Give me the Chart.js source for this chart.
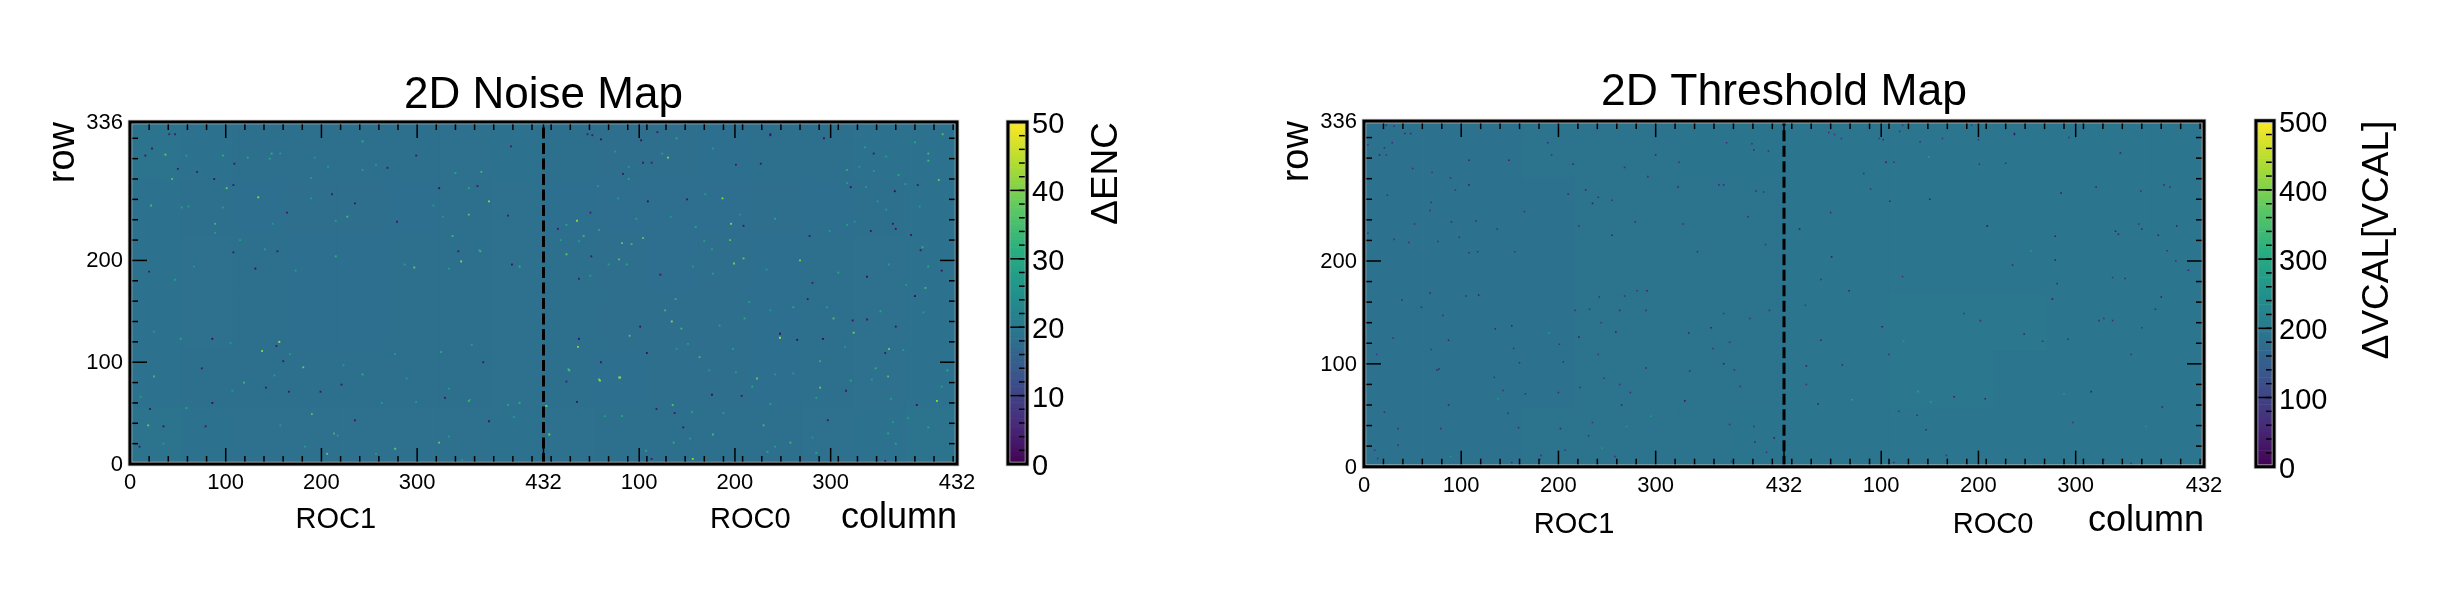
<!DOCTYPE html>
<html>
<head>
<meta charset="utf-8">
<title>2D Noise and Threshold Maps</title>
<script src="https://cdn.jsdelivr.net/npm/chart.js@4"></script>
<style>
  body { margin: 0; background: #fff; }
  canvas { position: absolute; top: 0; }
</style>
</head>
<body>
<canvas id="noiseMap" width="1000" height="592" style="left:0"></canvas>
<canvas id="noiseBar" width="230" height="592" style="left:1000px"></canvas>
<canvas id="thresholdMap" width="1010" height="592" style="left:1230px"></canvas>
<canvas id="thresholdBar" width="220" height="592" style="left:2240px"></canvas>
<script>
// axis ticks
const columnTickValues = [0, 100, 200, 300, 432, 532, 632, 732, 864];
const columnTickLabels = ["0", "100", "200", "300", "432", "100", "200", "300", "432"];
const rowTickValues = [0, 100, 200, 336];
const rowTickLabels = ["0", "100", "200", "336"];
const rocBoundary = [432];

// coarse map level, one row per 56 rows of pixels (top row first), 16 blocks across
const noiseLevels = [
  [18.9, 18.6, 18.4, 18.3, 18.3, 18.4, 18.5, 18.7, 18.4, 18.1, 18.1, 18.2, 18.3, 18.4, 18.6, 18.8],
  [18.7, 18.4, 18.2, 18.1, 18.1, 18.2, 18.3, 18.5, 18.2, 18.0, 17.9, 18.0, 18.1, 18.2, 18.4, 18.7],
  [18.8, 18.5, 18.3, 18.2, 18.2, 18.3, 18.4, 18.5, 18.3, 18.1, 18.0, 18.1, 18.2, 18.3, 18.5, 18.7],
  [18.8, 18.5, 18.3, 18.2, 18.2, 18.3, 18.4, 18.5, 18.3, 18.1, 18.1, 18.1, 18.2, 18.3, 18.5, 18.8],
  [18.7, 18.4, 18.3, 18.3, 18.3, 18.3, 18.4, 18.5, 18.3, 18.2, 18.1, 18.1, 18.2, 18.3, 18.5, 18.7],
  [18.9, 18.6, 18.5, 18.5, 18.5, 18.5, 18.5, 18.7, 18.5, 18.4, 18.3, 18.3, 18.4, 18.5, 18.6, 18.9],
];
const thresholdLevels = [
  [187, 188, 188, 189, 190, 190, 191, 191, 194, 195, 195, 195, 195, 195, 195, 194],
  [187, 187, 188, 188, 189, 190, 190, 190, 194, 195, 196, 196, 196, 195, 195, 194],
  [187, 187, 188, 188, 189, 190, 190, 190, 194, 196, 196, 196, 196, 196, 195, 195],
  [187, 187, 188, 188, 189, 190, 190, 190, 194, 196, 197, 197, 197, 196, 195, 195],
  [187, 188, 188, 188, 189, 190, 190, 190, 194, 196, 197, 197, 196, 196, 195, 195],
  [188, 188, 188, 189, 190, 190, 190, 191, 194, 195, 196, 196, 196, 195, 195, 195],
];

// single pixels that stand out from the map: [column, row, value]
const noisePixels = [
  [37,304,38],[44,280,36],[89,236,34],[101,271,38],[134,262,42],[375,258,42],[354,245,36],[367,287,34],
  [346,199,42],[297,193,38],[366,209,34],[337,224,34],[22,254,34],[243,317,32],[148,305,32],[97,303,32],
  [340,286,30],[215,204,32],[227,243,34],[407,194,32],
  [41,324,4],[47,324,4],[23,310,3],[16,303,3],[109,295,3],[50,290,3],[70,287,3],[88,280,2],[108,274,3],
  [211,265,3],[235,256,2],[164,247,3],[323,271,1],[269,291,3],[299,303,3],[398,312,3],[363,273,3],
  [279,238,3],[395,244,3],[108,208,3],[154,209,3],[343,209,3],[399,196,2],[20,189,3],[131,192,1],
  [156,120,45],[138,111,42],[181,95,38],[25,86,34],[243,88,32],[19,38,38],[119,80,34],[438,29,34],
  [435,57,36],[213,30,34],[206,10,38],[277,15,38],[323,21,38],[354,62,34],[407,60,32],[190,49,36],
  [86,123,1],[153,116,3],[160,101,3],[75,94,3],[142,75,3],[166,71,3],[199,71,3],[86,60,1],[21,54,2],
  [79,37,3],[35,37,2],[235,43,3],[329,65,2],[375,42,2],[10,17,3],[369,100,3],[221,78,3],
  [562,301,42],[467,239,42],[474,224,34],[619,261,42],[628,236,42],[627,220,36],[536,222,36],[514,217,38],
  [524,216,34],[456,206,38],[456,235,30],[511,201,36],[631,197,40],[700,200,40],[641,202,38],[834,305,34],
  [834,298,34],[845,279,38],[831,173,34],[828,213,32],[749,289,32],[820,316,30],[849,324,36],
  [669,324,2],[669,323,2],[536,296,3],[545,296,4],[633,294,3],[659,295,3],[777,305,3],[515,285,2],
  [753,272,2],[799,268,1],[823,274,3],[541,258,1],[582,260,2],[481,247,4],[447,231,3],[641,234,3],
  [797,236,2],[800,231,2],[774,229,2],[710,224,3],[816,225,3],[826,210,3],[482,204,3],[469,182,3],
  [554,186,3],[770,184,2],[848,190,2],[713,178,4],[478,324,4],[483,323,3],[492,319,1],[551,326,3],
  [534,318,1],[725,320,2],
  [566,140,42],[468,115,42],[679,124,45],[655,84,38],[511,85,40],[490,83,38],[458,93,34],[595,105,34],
  [721,75,38],[792,86,36],[756,129,40],[735,143,36],[793,113,38],[435,57,38],[567,58,36],[438,29,38],
  [690,21,34],[843,62,42],[609,29,34],[662,38,34],[568,21,32],[522,126,36],[576,133,34],[559,151,34],
  [570,162,32],[588,5,42],[721,101,32],[779,94,32],[854,92,32],[491,82,42],[512,85,42],[459,92,36],
  [533,135,2],[469,123,1],[540,109,1],[492,100,3],[456,81,4],[467,61,1],[550,54,3],[569,50,3],[578,36,3],
  [608,68,1],[639,67,3],[679,128,1],[697,122,1],[724,123,0],[755,141,2],[770,142,3],[800,135,2],
  [820,165,1],[708,162,3],[748,72,2],[729,43,2],[822,58,1],[789,109,3],[545,5,3],[789,3,2],
  // fainter green specks
  [507,307,28],[521,292,28],[521,280,30],[489,273,27],[510,261,28],[601,265,28],[609,310,27],[571,320,30],
  [556,305,28],[768,311,28],[790,302,28],[777,288,28],[762,292,27],[803,284,30],[810,275,28],[769,272,28],
  [749,276,28],[790,250,28],[781,258,28],[825,253,27],[674,241,30],[591,233,30],[637,245,27],[565,243,27],
  [529,241,28],[490,230,30],[450,220,28],[469,219,27],[600,219,28],[608,211,28],[731,229,27],[749,235,28],
  [757,238,27],[793,196,28],[834,194,30],[811,176,28],[740,188,30],[665,191,27],[588,194,28],[609,187,28],
  [500,196,28],[519,196,30],[481,185,28],
  [693,154,30],[647,159,28],[669,151,27],[728,154,28],[784,150,30],[829,149,28],[616,136,28],[642,143,30],
  [571,113,27],[583,118,28],[630,113,28],[747,115,27],[808,112,28],[605,92,27],[633,90,28],[693,89,28],
  [674,88,27],[753,82,30],[775,83,28],[650,76,30],[848,76,28],[795,64,28],[717,65,28],[669,59,30],
  [587,51,30],[620,50,28],[514,47,30],[496,47,28],[813,45,28],[797,41,28],[834,36,30],[792,30,30],
  [713,26,27],[585,25,28],[674,17,28],[666,12,30],[717,11,30],[539,13,30],[800,20,30],
  [59,303,28],[146,300,30],[157,305,28],[193,301,27],[207,292,28],[257,294,28],[243,289,28],[189,281,27],
  [123,301,30],[61,253,28],[54,252,28],[97,252,28],[149,236,27],[215,239,28],[327,243,27],[354,271,30],
  [317,254,28],[189,261,27],[89,227,28],[115,220,27],[141,211,28],[173,190,28],[287,196,28],[333,192,28],
  [365,210,30],[67,194,27],[47,181,28],
  [25,130,28],[53,123,30],[105,119,27],[167,108,28],[223,97,28],[277,108,28],[325,110,30],[357,117,28],
  [289,84,28],[333,74,28],[299,61,27],[59,55,30],[11,66,28],[151,87,28],[107,72,27],[263,60,28],
  [401,46,28],[395,58,30],[355,63,28],[333,27,28],[157,38,27],[217,28,28],[183,17,28],[257,10,28],
  [347,4,27],[35,20,28],
];
const thresholdPixels = [
  [39,162,60],[59,155,60],[68,169,60],[105,166,60],[118,167,40],[81,147,60],[135,134,60],[152,137,40],
  [87,123,40],[30,125,70],[69,114,70],[154,115,60],[13,109,70],[160,101,60],[77,95,40],[75,94,40],
  [134,87,70],[143,74,60],[166,71,60],[87,60,40],[21,53,60],[148,52,60],[35,37,60],[79,37,60],[159,38,60],
  [35,21,70],[11,16,70],[14,8,70],[152,4,60],[182,11,70],[181,7,60],[207,16,70],[202,37,60],[231,30,60],
  [235,43,70],[200,72,70],[222,77,60],[247,86,70],[205,102,60],[241,109,70],[201,119,70],[221,126,40],
  [259,131,30],[244,140,70],[217,152,70],[232,153,70],[242,165,60],[268,166,60],[281,171,70],[291,171,40],
  [263,152,60],[290,152,60],[290,96,40],[263,80,70],[274,72,70],[265,60,40],[330,64,30],[334,130,40],
  [357,135,40],[359,115,70],[376,121,70],[370,149,70],[397,144,70],[417,152,70],[370,100,30],[381,94,60],
  [335,93,60],[387,78,70],[376,41,70],[401,39,60],[402,24,40],[422,28,40],[414,14,70],[378,5,70],[258,10,60],
  [23,332,60],[31,331,60],[42,324,50],[48,324,50],[4,313,70],[29,315,60],[21,310,60],[16,303,40],[23,303,60],
  [50,290,60],[70,286,70],[89,281,60],[108,298,40],[149,298,40],[189,315,60],[193,303,60],[215,294,40],
  [268,291,70],[292,282,60],[300,303,40],[324,296,60],[373,315,60],[399,314,60],[401,308,60],[416,307,60],
  [108,274,40],[94,269,60],[323,272,40],[365,274,60],[370,274,60],[210,265,60],[228,269,40],[241,262,60],
  [235,256,40],[255,259,60],[403,268,60],[411,267,70],[24,264,60],[69,257,70],[68,249,60],[165,248,70],
  [115,239,60],[52,236,60],[90,238,60],[395,243,60],[221,234,60],[279,238,70],[328,236,60],[137,231,70],
  [4,227,60],[31,221,70],[46,218,60],[76,219,60],[98,223,60],[255,225,40],[413,216,70],[108,208,60],
  [117,209,60],[155,209,60],[343,209,60],
  [478,325,70],[484,323,70],[491,319,70],[530,319,70],[534,318,60],[551,326,70],[554,332,70],[572,316,60],
  [595,319,70],[625,332,70],[632,318,70],[669,324,30],[669,323,30],[725,320,60],[778,305,40],[537,296,20],
  [545,296,60],[633,294,60],[660,295,60],[514,285,60],[521,270,70],[541,258,40],[582,260,40],[480,247,60],
  [448,231,40],[641,234,10],[717,266,40],[753,272,40],[799,268,60],[823,274,60],[829,272,60],[711,224,40],
  [773,229,40],[776,226,40],[797,236,70],[800,231,60],[817,225,40],[836,234,40],[481,204,40],[826,210,60],
  [711,201,30],[667,196,60],[835,200,60],[848,191,40],[470,182,60],[554,185,70],[499,171,40],[770,184,70],
  [783,183,60],[713,178,60],
  [454,157,70],[470,123,40],[533,136,30],[617,149,70],[634,142,60],[708,163,20],[820,165,30],[814,153,50],
  [756,142,60],[761,144,70],[770,142,70],[800,135,70],[679,129,40],[698,122,60],[724,124,60],[540,109,60],
  [789,109,60],[455,98,40],[492,99,60],[455,80,70],[748,73,40],[467,61,30],[607,68,30],[639,66,40],
  [821,58,40],[550,54,70],[569,50,60],[578,36,50],[729,43,70],[599,11,70],[545,4,60],[789,3,60],[761,7,70],
  [190,130,280],[295,49,280],[270,39,280],[245,18,270],[89,10,270],[138,66,270],[686,210,290],[581,301,280],
  [570,73,290],[502,65,290],[583,63,280],[720,71,280],[804,39,270],[555,122,280],
];

// viridis
const viridisStops = ["#440154", "#472d7b", "#3b528b", "#2c728e", "#21918c", "#28ae80", "#5ec962", "#addc30", "#fde725"];

function viridis(t) {
  const pos = Math.min(Math.max(t, 0), 1) * (viridisStops.length - 1);
  const i = Math.min(Math.floor(pos), viridisStops.length - 2);
  const f = pos - i;
  const a = parseInt(viridisStops[i].slice(1), 16);
  const b = parseInt(viridisStops[i + 1].slice(1), 16);
  const mix = (shift) => Math.round(((a >> shift) & 255) * (1 - f) + ((b >> shift) & 255) * f);
  return `rgb(${mix(16)}, ${mix(8)}, ${mix(0)})`;
}

Chart.defaults.font.family = "'Liberation Sans', Arial, sans-serif";
Chart.defaults.color = "#000";
Chart.defaults.animation = false;

// thin grey halo + black frame, and ticks pointing into the plot
const frameTicks = {
  id: "frameTicks",
  beforeDatasetsDraw(chart, args, opts) {
    // base colour so the edges between map blocks do not show white
    if (!opts.baseColor) return;
    const { ctx, chartArea: a } = chart;
    ctx.save();
    ctx.fillStyle = opts.baseColor;
    ctx.fillRect(a.left, a.top, a.width, a.height);
    ctx.restore();
  },
  afterDatasetsDraw(chart, args, opts) {
    const { ctx, chartArea: a } = chart;
    const xScale = chart.scales.x;
    const yScale = chart.scales.y;
    ctx.save();
    ctx.strokeStyle = "#000";
    ctx.lineWidth = 1.5;
    const line = (x1, y1, x2, y2) => {
      ctx.beginPath();
      ctx.moveTo(x1, y1);
      ctx.lineTo(x2, y2);
      ctx.stroke();
    };
    if (opts.colorbar) {
      yScale.ticks.forEach((t) => {
        const y = yScale.getPixelForValue(t.value);
        line(a.left, y, a.right, y);
      });
      for (let v = opts.minorStep; v < yScale.max; v += opts.minorStep) {
        const y = yScale.getPixelForValue(v);
        line(a.right - 8, y, a.right, y);
      }
    } else {
      xScale.ticks.forEach((t) => {
        const x = xScale.getPixelForValue(t.value);
        const len = columnTickValues.includes(t.value) ? 16 : 8;
        line(x, a.top, x, a.top + len);
        line(x, a.bottom, x, a.bottom - len);
      });
      yScale.ticks.forEach((t) => {
        const y = yScale.getPixelForValue(t.value);
        const len = rowTickValues.includes(t.value) ? 17 : 8;
        line(a.left, y, a.left + len, y);
        line(a.right, y, a.right - len, y);
      });
    }
    ctx.strokeStyle = "#bdbdbd";
    ctx.lineWidth = 4.5;
    ctx.strokeRect(a.left, a.top, a.width, a.height);
    ctx.strokeStyle = "#000";
    ctx.lineWidth = 3;
    ctx.strokeRect(a.left, a.top, a.width, a.height);
    ctx.restore();
  },
  afterDraw(chart, args, opts) {
    const { ctx, chartArea: a } = chart;
    ctx.save();
    ctx.fillStyle = "#000";
    ctx.textBaseline = "middle";
    // ROC labels under the two halves
    (opts.rocLabels || []).forEach((r) => {
      ctx.font = "29px 'Liberation Sans'";
      ctx.textAlign = "center";
      ctx.fillText(r.text, chart.scales.x.getPixelForValue(r.column), a.bottom + r.dy);
    });
    // colorbar title reads bottom to top
    if (opts.barTitle) {
      ctx.font = "37px 'Liberation Sans'";
      ctx.textAlign = "right";
      ctx.translate(a.right + opts.barTitleDx, a.top);
      ctx.rotate(-Math.PI / 2);
      ctx.fillText(opts.barTitle, 0, 0);
    }
    ctx.restore();
  },
};

function everyTwenty(limit) {
  const list = [];
  for (let v = 0; v <= limit; v += 20) list.push(v);
  return list;
}

function makeMap(id, cfg) {
  const blockLabels = cfg.levels[0].map((_, i) => "b" + i);
  const cells = [];
  const colors = [];
  cfg.levels.forEach((levels, r) => {
    const hi = 336 - r * 56;
    levels.forEach((v, c) => {
      cells.push({ x: blockLabels[c], y: [hi - 56, hi] });
      colors.push(viridis(v / cfg.max));
    });
  });
  const columnTicks = [...new Set([...everyTwenty(864), ...columnTickValues])].sort((a, b) => a - b);
  const rowTicks = [...new Set([...everyTwenty(336), ...rowTickValues])].sort((a, b) => a - b);

  return new Chart(document.getElementById(id), {
    type: "bar",
    data: {
      labels: blockLabels,
      datasets: [
        {
          type: "line",
          order: 0,
          data: [
            { x: rocBoundary[0], y: 0 },
            { x: rocBoundary[0], y: 336 },
          ],
          xAxisID: "x",
          yAxisID: "y",
          borderColor: "#000",
          borderWidth: 3,
          borderDash: [11, 4.5],
          pointRadius: 0,
        },
        {
          type: "scatter",
          order: 1,
          data: cfg.pixels.map((p) => ({ x: p[0], y: p[1] })),
          xAxisID: "x",
          yAxisID: "y",
          pointStyle: "rect",
          pointRadius: cfg.pixelRadius,
          pointBorderWidth: 0,
          pointBackgroundColor: cfg.pixels.map((p) => viridis(p[2] / cfg.max)),
        },
        {
          type: "bar",
          order: 2,
          data: cells,
          xAxisID: "blocks",
          yAxisID: "y",
          grouped: false,
          barPercentage: 1,
          categoryPercentage: 1,
          backgroundColor: colors,
        },
      ],
    },
    options: {
      responsive: false,
      layout: { padding: cfg.padding },
      plugins: {
        legend: { display: false },
        tooltip: { enabled: false },
        title: {
          display: true,
          text: cfg.title,
          fullSize: false,
          font: { size: cfg.titleSize, weight: "normal", lineHeight: 1.2 },
          padding: { top: 0, bottom: cfg.titleGap },
          color: "#000",
        },
        frameTicks: { rocLabels: cfg.rocLabels, baseColor: colors[40] },
      },
      scales: {
        blocks: { axis: "x", type: "category", offset: true, display: false },
        x: {
          type: "linear",
          position: "bottom",
          min: 0,
          max: 864,
          offset: false,
          grid: { display: false, drawTicks: false },
          border: { display: false },
          afterBuildTicks: (scale) => {
            scale.ticks = columnTicks.map((value) => ({ value }));
          },
          afterFit: (scale) => {
            scale.height = 80;
          },
          ticks: {
            autoSkip: false,
            maxRotation: 0,
            minRotation: 0,
            padding: 6,
            font: { size: 22 },
            callback: (value) => {
              const i = columnTickValues.indexOf(value);
              return i < 0 ? "" : columnTickLabels[i];
            },
          },
          title: {
            display: true,
            text: "column",
            align: "end",
            font: { size: 36 },
            padding: { top: 0, bottom: cfg.columnGap },
          },
        },
        y: {
          type: "linear",
          min: 0,
          max: 336,
          grid: { display: false, drawTicks: false },
          border: { display: false },
          afterBuildTicks: (scale) => {
            scale.ticks = rowTicks.map((value) => ({ value }));
          },
          afterFit: (scale) => {
            scale.width = 90;
          },
          ticks: {
            autoSkip: false,
            padding: 7,
            labelOffset: 1,
            font: { size: 22 },
            callback: (value) => {
              const i = rowTickValues.indexOf(value);
              return i < 0 ? "" : rowTickLabels[i];
            },
          },
          title: {
            display: true,
            text: "row",
            align: "end",
            font: { size: 38 },
            padding: { top: 1, bottom: 0 },
          },
        },
      },
    },
    plugins: [frameTicks],
  });
}

function makeColorbar(id, cfg) {
  const levels = [];
  for (let i = 0; i < 128; i++) levels.push(i / 128);
  return new Chart(document.getElementById(id), {
    type: "bar",
    data: {
      labels: ["scale"],
      datasets: [
        {
          data: levels.map((t) => ({ x: "scale", y: [t * cfg.max, (t + 1 / 128) * cfg.max] })),
          grouped: false,
          barPercentage: 1,
          categoryPercentage: 1,
          backgroundColor: levels.map((t) => viridis(t + 1 / 256)),
        },
      ],
    },
    options: {
      responsive: false,
      layout: { padding: cfg.padding },
      plugins: {
        legend: { display: false },
        tooltip: { enabled: false },
        frameTicks: {
          colorbar: true,
          minorStep: cfg.max / 25,
          barTitle: cfg.barTitle,
          barTitleDx: cfg.barTitleDx,
        },
      },
      scales: {
        x: { type: "category", offset: true, display: false },
        y: {
          type: "linear",
          position: "right",
          min: 0,
          max: cfg.max,
          grid: { display: false, drawTicks: false },
          border: { display: false },
          afterFit: (scale) => {
            scale.width = 100;
          },
          ticks: {
            stepSize: cfg.max / 5,
            padding: 5,
            labelOffset: 3,
            font: { size: 29 },
          },
        },
      },
    },
    plugins: [frameTicks],
  });
}

makeMap("noiseMap", {
  title: "2D Noise Map",
  titleSize: 44,
  titleGap: 0,
  levels: noiseLevels,
  pixels: noisePixels,
  pixelRadius: 1.3,
  max: 50,
  padding: { left: 40, top: 69.2, right: 43, bottom: 48 },
  columnGap: 4,
  rocLabels: [
    { text: "ROC1", column: 215, dy: 56 },
    { text: "ROC0", column: 648, dy: 56 },
  ],
});

makeColorbar("noiseBar", {
  max: 50,
  barTitle: "ΔENC",
  barTitleDx: 80,
  padding: { left: 8, top: 122, right: 103, bottom: 128 },
});

makeMap("thresholdMap", {
  title: "2D Threshold Map",
  titleSize: 44.5,
  titleGap: 1.7,
  levels: thresholdLevels,
  pixels: thresholdPixels,
  pixelRadius: 1.1,
  max: 500,
  padding: { left: 44, top: 66, right: 36, bottom: 45.3 },
  columnGap: 4,
  rocLabels: [
    { text: "ROC1", column: 216, dy: 58 },
    { text: "ROC0", column: 647, dy: 58 },
  ],
});

makeColorbar("thresholdBar", {
  max: 500,
  barTitle: "ΔVCAL[VCAL]",
  barTitleDx: 104,
  padding: { left: 16, top: 120.7, right: 86, bottom: 125.3 },
});
</script>
</body>
</html>
